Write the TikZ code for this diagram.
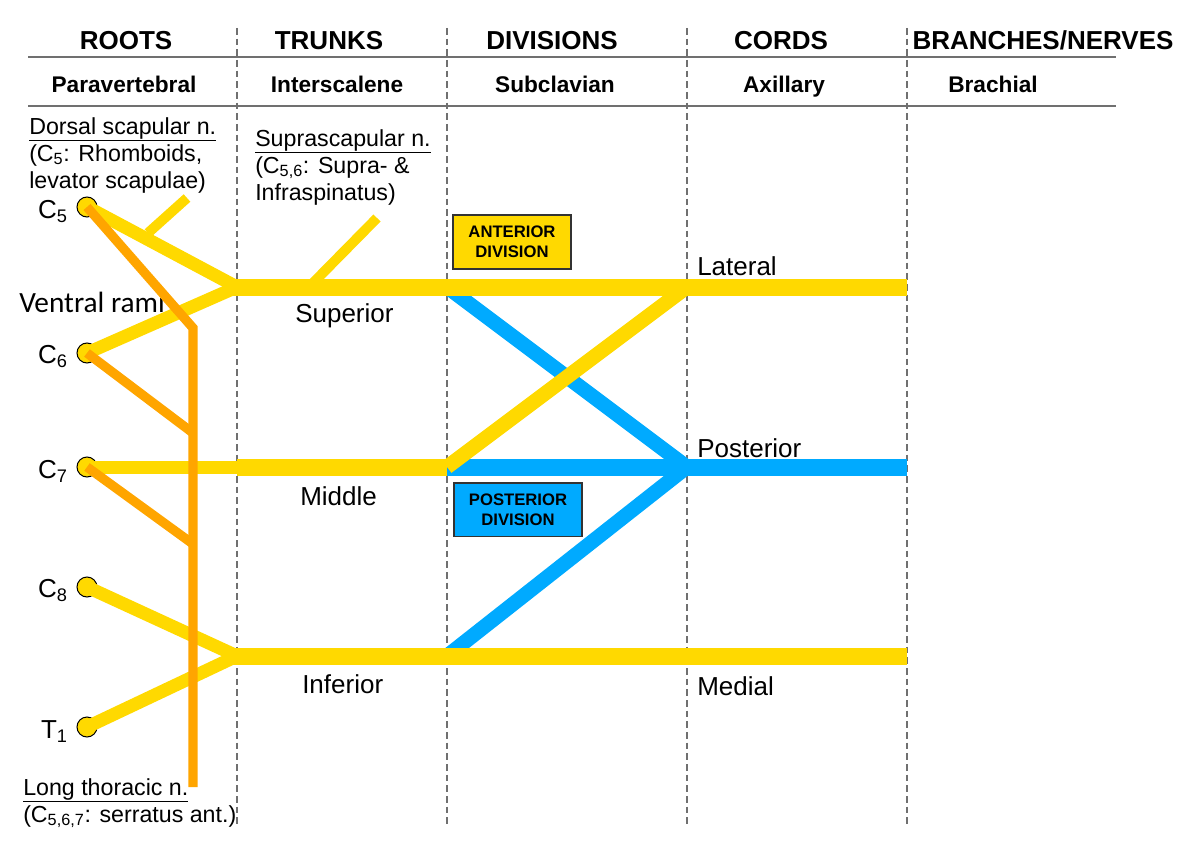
\documentclass[tikz,border=0pt]{standalone}
\usepackage{fontspec}
\setmainfont{Liberation Sans}
\newfontfamily\calibrifont{Carlito}
\definecolor{ygold}{RGB}{255,217,0}
\definecolor{orng}{RGB}{255,165,0}
\definecolor{blu}{RGB}{0,170,255}
\definecolor{gridgray}{RGB}{112,112,112}
\begin{document}
\begin{tikzpicture}[x=0.75pt,y=-0.75pt,
  sepline/.style={draw=gridgray, line width=1.2pt, dash pattern=on 5pt off 3pt},
  rule/.style={draw=gridgray, line width=1.5pt},
  hdr/.style={font=\fontsize{19.5}{23}\selectfont\bfseries, anchor=base, inner sep=0},
  subhdr/.style={font=\fontsize{17}{20}\selectfont\bfseries, anchor=base, inner sep=0},
  lbl/.style={font=\fontsize{19.5}{23}\selectfont, anchor=base west, inner sep=0},
  rlbl/.style={font=\fontsize{19.5}{23}\selectfont, anchor=base east, inner sep=0},
  note/.style={font=\fontsize{17.4}{20.25}\selectfont, anchor=north west, align=left, inner sep=0},
  rootdot/.style={circle, draw=black, line width=0.75pt, fill=ygold, minimum size=15pt, inner sep=0},
  yroot/.style={draw=ygold, line width=9.75pt},
  ytrunk/.style={draw=ygold, line width=12.75pt},
  ydiv/.style={draw=ygold, line width=11pt},
  ybranch/.style={draw=ygold, line width=7.5pt},
  onerve/.style={draw=orng, line width=7pt},
  bdiv/.style={draw=blu, line width=11pt},
  bcord/.style={draw=blu, line width=12.75pt},
  divbox/.style={draw=black!80, line width=1pt, font=\fontsize{12.5}{15}\selectfont\bfseries, align=center, inner sep=0}
]
\useasboundingbox (0,0) rectangle (1193,856);

% column separators
\foreach \xx/\nm in {237/a,447/b,687/c,907/d}{
  \coordinate (top\nm) at (\xx,28);
  \coordinate (bot\nm) at (\xx,826);
  \draw[sepline] (top\nm) -- (bot\nm);
}
% horizontal rules
\coordinate (r1a) at (28,57); \coordinate (r1b) at (1116,57);
\coordinate (r2a) at (28,106); \coordinate (r2b) at (1116,106);
\draw[rule] (r1a) -- (r1b);
\draw[rule] (r2a) -- (r2b);

% headers
\node[hdr] (hroots) at (126,50) {ROOTS};
\node[hdr] (htrunks) at (329,50) {TRUNKS};
\node[hdr] (hdiv) at (552,50) {DIVISIONS};
\node[hdr] (hcords) at (781,50) {CORDS};
\node[hdr] (hbr) at (1043,50) {BRANCHES/NERVES};
\node[subhdr] (spara) at (124,93) {Paravertebral};
\node[subhdr] (sinter) at (337,93) {Interscalene};
\node[subhdr] (ssub) at (555,93) {Subclavian};
\node[subhdr] (saxi) at (784,93) {Axillary};
\node[subhdr] (sbra) at (993,93) {Brachial};

% ventral rami label (under the lines)
\node[anchor=base west, inner sep=0, font=\calibrifont\fontsize{22}{26}\selectfont] (vr) at (19,312) {Ventral rami};

% root dots
\node[rootdot] (c5) at (87,207) {};
\node[rootdot] (c6) at (87,353) {};
\node[rootdot] (c7) at (87,467) {};
\node[rootdot] (c8) at (87,587) {};
\node[rootdot] (t1) at (87,727) {};

% junction coordinates
\coordinate (jS) at (237,287);
\coordinate (jS0) at (231,287);
\coordinate (dS) at (447,287);
\coordinate (lat) at (687,287);
\coordinate (latE) at (907,287);
\coordinate (jM) at (237,467);
\coordinate (dM) at (447,467);
\coordinate (post) at (687,467);
\coordinate (postE) at (907,467);
\coordinate (jI) at (237,656);
\coordinate (jI0) at (231,656);
\coordinate (dI) at (447,656);
\coordinate (infE) at (907,656);
\coordinate (dsA) at (148,233);
\coordinate (dsB) at (187,198);
\coordinate (ssA) at (309,287);
\coordinate (ssB) at (377,218);
\coordinate (ltBend) at (193,328);
\coordinate (ltEnd) at (193,787);
\coordinate (lt6) at (193,433);
\coordinate (lt7) at (193,544);

% posterior divisions (blue)
\draw[bdiv] (dS) -- (post);
\draw[bdiv] (dI) -- (post);
\draw[bcord] (dM) -- (postE);

% yellow roots, trunks, anterior divisions, cords
\draw[yroot] (c5.center) -- (jS);
\draw[yroot] (c6.center) -- (jS);
\draw[ytrunk] (jS0) -- (latE);
\draw[yroot] (c7.center) -- (jM);
\draw[ytrunk] (jM) -- (dM);
\draw[ydiv] (dM) -- (lat);
\draw[yroot] (c8.center) -- (jI);
\draw[yroot] (t1.center) -- (jI);
\draw[ytrunk] (jI0) -- (infE);
\draw[ybranch] (dsA) -- (dsB);
\draw[ybranch] (ssA) -- (ssB);

% long thoracic nerve (orange)
\draw[onerve] (c5.center) -- (ltBend) -- (ltEnd);
\draw[onerve] (c6.center) -- (lt6);
\draw[onerve] (c7.center) -- (lt7);

% root labels
\node[rlbl] (lc5) at (68,218) {C\textsubscript{5}};
\node[rlbl] (lc6) at (68,363) {C\textsubscript{6}};
\node[rlbl] (lc7) at (68,478) {C\textsubscript{7}};
\node[rlbl] (lc8) at (68,597) {C\textsubscript{8}};
\node[rlbl] (lt1) at (68,738) {T\textsubscript{1}};

% trunk and cord labels
\node[lbl] (lsup) at (295,322) {Superior};
\node[lbl] (lmid) at (300,505) {Middle};
\node[lbl] (linf) at (302,693) {Inferior};
\node[lbl] (llat) at (697,275) {Lateral};
\node[lbl] (lpost) at (697,457) {Posterior};
\node[lbl] (lmed) at (697,695) {Medial};

% notes
\node[note] (ndors) at (29,117) {\underline{Dorsal scapular n.}\\(C\textsubscript{5}: Rhomboids,\\levator scapulae)};
\node[note] (nsupra) at (255,129) {\underline{Suprascapular n.}\\(C\textsubscript{5,6}: Supra- \&\\Infraspinatus)};
\node[note] (nlong) at (23,778) {\underline{Long thoracic n.}\\(C\textsubscript{5,6,7}: serratus ant.)};

% division boxes
\node[divbox, fill=ygold, minimum width=88.5pt, minimum height=40.5pt] (antbox) at (512,242) {ANTERIOR\\DIVISION};
\node[divbox, fill=blu, minimum width=96pt, minimum height=40pt] (postbox) at (518,509.5) {POSTERIOR\\DIVISION};
\end{tikzpicture}
\end{document}
